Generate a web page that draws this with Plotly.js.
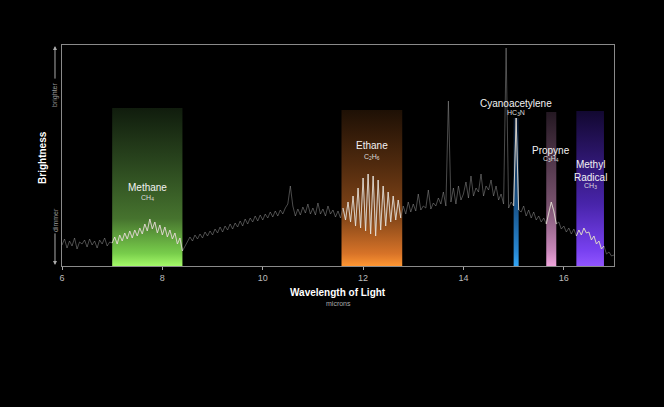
<!DOCTYPE html>
<html><head><meta charset="utf-8">
<script src="https://cdn.plot.ly/plotly-3.0.1.min.js"></script>
<style>html,body{margin:0;padding:0;background:#000;}#chart{width:664px;height:407px;}</style>
</head><body><div id="chart"></div>
<script>
// ---- DATA ----
// Spectrum sampled from 6.00 to 17.00 microns, every 0.05 microns (relative brightness, arbitrary units)
const wavelengthStart = 6.0;
const wavelengthStep = 0.05;
const brightness = [
  21,27,18,25,20,28,17,24,22,26,
  19,27,21,25,18,26,22,28,20,24,
  23,29,22,31,25,33,27,35,28,36,
  30,38,32,42,35,47,37,44,33,41,
  31,39,29,36,27,33,22,28,15,20,
  24,29,25,31,27,32,28,34,30,35,
  31,37,33,39,34,40,36,42,37,43,
  39,45,40,47,42,48,44,50,45,51,
  46,52,48,54,49,55,50,56,52,58,
  62,80,60,50,57,51,59,53,62,52,
  58,51,63,52,57,50,60,52,56,49,
  55,48,58,46,64,44,70,40,78,38,
  88,35,92,32,90,30,86,36,80,40,
  74,44,70,46,66,48,60,52,64,54,
  62,55,72,56,60,58,76,57,63,60,
  68,62,74,60,165,64,78,62,80,66,
  72,84,68,90,70,78,74,92,70,80,
  76,86,70,80,66,72,62,218,58,64,
  60,148,56,54,60,50,56,48,54,46,
  50,44,48,42,52,64,55,42,44,37,
  40,34,38,32,37,30,36,31,38,33,
  34,26,30,22,25,17,20,12,14,10,
  11
];
const bandNames = ['Methane', 'Ethane', 'Cyanoacetylene', 'Propyne', 'Methyl<br>Radical'];
const bandFormulas = ['CH<sub>4</sub>', 'C<sub>2</sub>H<sub>6</sub>', 'HC<sub>3</sub>N', 'C<sub>3</sub>H<sub>4</sub>', 'CH<sub>3</sub>'];
const bandStart = [7.0, 11.57, 15.0, 15.65, 16.25];
const bandEnd = [8.4, 12.78, 15.1, 15.85, 16.8];
const bandTop = [158, 156, 148, 154, 155];
const xTicks = [6, 8, 10, 12, 14, 16];

// ---- STYLE ----
const bandScales = [
  [[0,'rgb(165,250,105)'],[0.08,'rgb(120,205,75)'],[0.3,'rgb(70,115,46)'],[0.65,'rgb(42,70,30)'],[1,'rgb(16,28,13)']],
  [[0,'rgb(255,150,50)'],[0.08,'rgb(215,115,40)'],[0.3,'rgb(135,72,25)'],[0.65,'rgb(80,42,14)'],[1,'rgb(30,16,5)']],
  [[0,'rgb(50,165,245)'],[0.1,'rgb(40,135,210)'],[0.4,'rgb(25,85,140)'],[1,'rgb(8,22,45)']],
  [[0,'rgb(240,165,220)'],[0.1,'rgb(200,135,185)'],[0.4,'rgb(120,82,110)'],[1,'rgb(36,24,34)']],
  [[0,'rgb(145,85,255)'],[0.1,'rgb(120,65,240)'],[0.4,'rgb(72,36,170)'],[1,'rgb(18,8,48)']]
];
const labelY = [79, 121, 163, 116, 95];
const formulaY = [68, 109, 153, 107, 80];

const wl = brightness.map((_, i) => +(wavelengthStart + i * wavelengthStep).toFixed(3));
const inBand = x => bandStart.some((s, k) => x >= s - 0.001 && x <= bandEnd[k] + 0.001);

const traces = [];
bandStart.forEach((s, k) => {
  const e = bandEnd[k], t = bandTop[k];
  traces.push({
    type: 'scatter', mode: 'lines',
    x: [s, e, e, s, s], y: [0, 0, t, t, 0],
    fill: 'toself', line: {width: 0},
    fillgradient: {type: 'vertical', colorscale: bandScales[k]},
    hoverinfo: 'skip', showlegend: false
  });
});
traces.push({
  type: 'scatter', mode: 'lines', x: wl, y: brightness,
  line: {color: 'rgba(150,150,150,0.5)', width: 1},
  hoverinfo: 'skip', showlegend: false
});
traces.push({
  type: 'scatter', mode: 'lines', x: wl,
  y: brightness.map((v, i) => inBand(wl[i]) ? v : null),
  line: {color: 'rgba(235,226,215,0.8)', width: 1},
  connectgaps: false, hoverinfo: 'skip', showlegend: false
});

const font = 'Liberation Sans, Arial, sans-serif';
const annotations = [];
bandNames.forEach((n, k) => {
  const cx = (bandStart[k] + bandEnd[k]) / 2;
  annotations.push({x: cx, y: labelY[k], xref: 'x', yref: 'y', text: n, showarrow: false,
    font: {family: font, size: 10, color: '#f2f2f2'}, xanchor: 'center', yanchor: 'middle'});
  annotations.push({x: cx, y: formulaY[k], xref: 'x', yref: 'y', text: bandFormulas[k], showarrow: false,
    font: {family: font, size: 7, color: '#dddddd'}, xanchor: 'center', yanchor: 'middle'});
});
const ctr = {xref: 'paper', yref: 'paper', showarrow: false, xanchor: 'center', yanchor: 'middle'};
annotations.push(
  Object.assign({x: 0.5, y: -0.122, text: '<b>Wavelength of Light</b>',
   font: {family: font, size: 10, color: '#ffffff'}}, ctr),
  Object.assign({x: 0.5, y: -0.168, text: 'microns',
   font: {family: font, size: 7, color: '#aaaaaa'}}, ctr),
  Object.assign({x: -0.0344, y: 0.489, text: '<b>Brightness</b>', textangle: -90,
   font: {family: font, size: 10, color: '#ffffff'}}, ctr),
  Object.assign({x: -0.0127, y: 0.774, text: 'brighter', textangle: -90,
   font: {family: font, size: 7, color: '#999999'}}, ctr),
  Object.assign({x: -0.0127, y: 0.208, text: 'dimmer', textangle: -90,
   font: {family: font, size: 7, color: '#999999'}}, ctr),
  {x: -0.0127, y: 0.995, xref: 'paper', yref: 'paper', text: '', showarrow: true, ax: 0, ay: 34,
   arrowhead: 2, arrowsize: 0.8, arrowwidth: 1, arrowcolor: '#aaaaaa'},
  {x: -0.0127, y: 0.005, xref: 'paper', yref: 'paper', text: '', showarrow: true, ax: 0, ay: -33,
   arrowhead: 2, arrowsize: 0.8, arrowwidth: 1, arrowcolor: '#aaaaaa'}
);

const layout = {
  width: 664, height: 407,
  margin: {l: 62, r: 50, t: 45, b: 141},
  paper_bgcolor: '#000', plot_bgcolor: '#000',
  font: {family: font, color: '#bbbbbb'},
  xaxis: {range: [6, 17], tickvals: xTicks, ticktext: xTicks.map(String),
    showgrid: false, zeroline: false, showline: true, linecolor: '#8a8a8a', linewidth: 1, mirror: true,
    ticks: 'outside', ticklen: 3, tickcolor: '#aaaaaa', tickfont: {size: 9, color: '#bbbbbb'}},
  yaxis: {range: [0, 221], showticklabels: false, ticks: '', showgrid: false, zeroline: false,
    showline: true, linecolor: '#8a8a8a', linewidth: 1, mirror: true},
  annotations: annotations,
  showlegend: false
};
Plotly.newPlot('chart', traces, layout, {staticPlot: true, displayModeBar: false});
</script></body></html>
